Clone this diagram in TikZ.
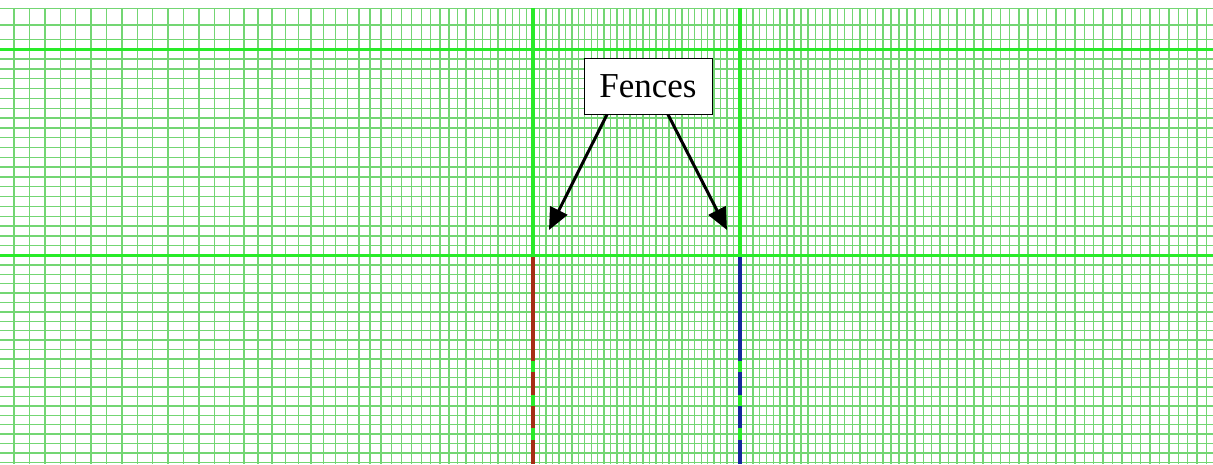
\documentclass[tikz,border=0pt]{standalone}
\usepackage{fontspec}
\setmainfont{Liberation Serif}
\usetikzlibrary{arrows.meta}
\definecolor{gridthin}{RGB}{115,214,115}
\definecolor{gridbold}{RGB}{40,235,40}
\definecolor{fencered}{RGB}{165,45,20}
\definecolor{fenceblue}{RGB}{20,40,155}
\begin{document}
\begin{tikzpicture}[x=1pt,y=-1pt,
  thin line/.style={draw=gridthin,line width=1.4pt},
  bold line/.style={draw=gridbold,line width=2.6pt},
  fence/.style={line width=3.6pt,dash pattern=on 104pt off 11pt on 23pt off 11pt on 22pt off 12pt on 40pt},
  label box/.style={draw=black,fill=white,line width=1pt,minimum width=128pt,minimum height=56pt,inner sep=0pt,font=\fontsize{35}{40}\selectfont},
  arr/.style={line width=3pt,-{Triangle[length=22pt,width=19pt]}}]
\useasboundingbox (0,0) rectangle (1213,464);
\fill[white] (0,0) rectangle (1213,464);
% horizontal thin lines
\foreach \y in {8.3,25,39.3} \draw[thin line] (0,\y) -- (1213,\y);
\foreach \i in {1,...,20} \draw[thin line] (0,49.3+\i*9.82) -- (1213,49.3+\i*9.82);
\foreach \i in {1,...,22} \draw[thin line] (0,255.5+\i*9.4) -- (1213,255.5+\i*9.4);
% vertical thin lines: fine centre, graded outwards
\foreach \k in {1,...,31} \draw[thin line] (533+6.47*\k,8.3) -- (533+6.47*\k,464);
\pgfmathsetmacro\xx{533}\pgfmathsetmacro\ss{6.47}
\loop
  \pgfmathsetmacro\ss{min(15.4,\ss*1.0275)}
  \pgfmathsetmacro\xx{\xx-\ss}
  \draw[thin line] (\xx,8.3) -- (\xx,464);
\ifdim\xx pt>0pt\repeat
\pgfmathsetmacro\xx{740}\pgfmathsetmacro\ss{6.47}
\loop
  \pgfmathsetmacro\ss{min(9.4,\ss*1.0095)}
  \pgfmathsetmacro\xx{\xx+\ss}
  \draw[thin line] (\xx,8.3) -- (\xx,464);
\ifdim\xx pt<1213pt\repeat
% bold lines
\draw[bold line] (0,49.3) -- (1213,49.3);
\draw[bold line] (0,255.5) -- (1213,255.5);
\draw[bold line,line width=3.2pt] (533,8.3) -- (533,464);
\draw[bold line,line width=3.2pt] (740,8.3) -- (740,464);
% fences
\coordinate (rt) at (533,257);
\coordinate (rb) at (533,464);
\coordinate (bt) at (740,257);
\coordinate (bb) at (740,464);
\draw[fence,draw=fencered] (rt) -- (rb);
\draw[fence,draw=fenceblue] (bt) -- (bb);
% label and arrows
\node[label box] (f) at (648,86) {Fences};
\coordinate (t1) at (549,230);
\coordinate (t2) at (727,230);
\draw[arr] ([xshift=-41pt]f.south) -- (t1);
\draw[arr] ([xshift=20pt]f.south) -- (t2);
\end{tikzpicture}
\end{document}
